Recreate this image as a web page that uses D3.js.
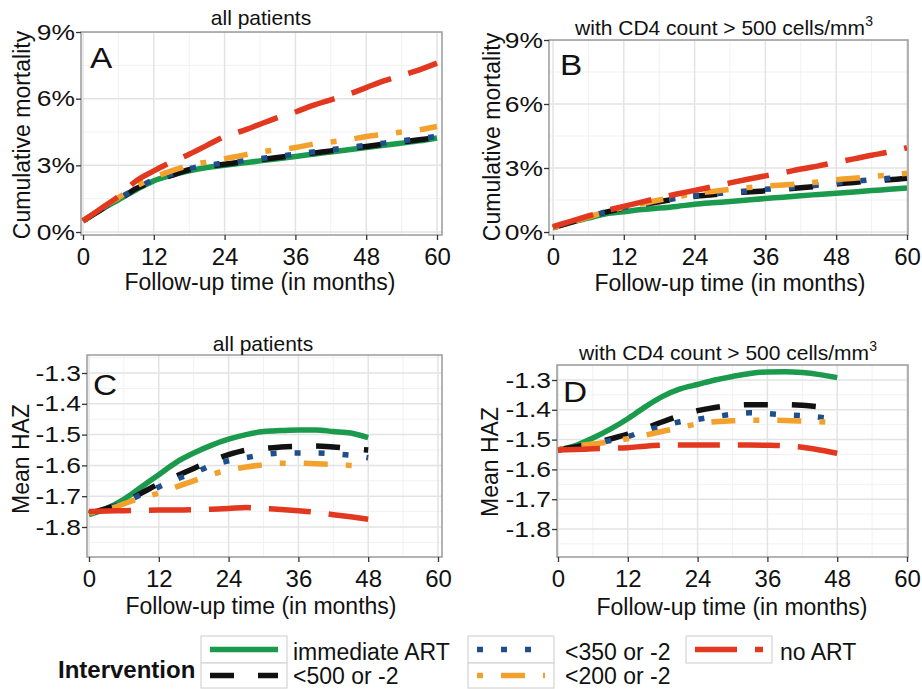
<!DOCTYPE html>
<html>
<head>
<meta charset="utf-8">
<script src="https://cdn.jsdelivr.net/npm/d3@7"></script>
<style>
  body { margin: 0; background: #fff; }
  text { font-family: "Liberation Sans", Arial, sans-serif; fill: #111; }
</style>
</head>
<body>
<svg id="fig" width="922" height="689"></svg>
<script>
// follow-up months
const months60 = [0, 3, 6, 9, 12, 15, 18, 21, 24, 27, 30, 33, 36, 39, 42, 45, 48, 51, 54, 57, 60];
const months48 = [0, 3, 6, 9, 12, 15, 18, 21, 24, 27, 30, 33, 36, 39, 42, 45, 48];
const seriesNames = ["immediate ART", "<500 or -2", "<350 or -2", "<200 or -2", "no ART"];

// A: cumulative mortality (%), all patients
const aImmediate = [0.5, 1.0, 1.45, 1.9, 2.3, 2.55, 2.75, 2.9, 3.0, 3.1, 3.2, 3.3, 3.4, 3.5, 3.6, 3.7, 3.8, 3.9, 4.0, 4.1, 4.23];
const aLt500 = [0.5, 1.0, 1.45, 1.95, 2.3, 2.55, 2.8, 2.95, 3.05, 3.15, 3.25, 3.35, 3.45, 3.55, 3.65, 3.75, 3.85, 3.95, 4.05, 4.15, 4.25];
const aLt350 = [0.5, 1.0, 1.5, 1.95, 2.35, 2.6, 2.85, 3.0, 3.1, 3.2, 3.3, 3.4, 3.5, 3.6, 3.7, 3.8, 3.9, 4.0, 4.1, 4.2, 4.3];
const aLt200 = [0.5, 1.05, 1.55, 2.05, 2.45, 2.75, 3.0, 3.15, 3.3, 3.45, 3.6, 3.7, 3.8, 3.95, 4.05, 4.15, 4.3, 4.4, 4.5, 4.6, 4.75];
const aNoArt = [0.5, 1.05, 1.6, 2.3, 2.75, 3.15, 3.5, 3.9, 4.3, 4.55, 4.85, 5.15, 5.4, 5.7, 5.95, 6.2, 6.5, 6.8, 7.05, 7.3, 7.6];

// B: cumulative mortality (%), CD4 > 500
const bImmediate = [0.2, 0.45, 0.65, 0.85, 0.95, 1.05, 1.12, 1.2, 1.3, 1.37, 1.43, 1.5, 1.57, 1.63, 1.7, 1.76, 1.82, 1.88, 1.94, 2.0, 2.06];
const bLt500 = [0.2, 0.45, 0.7, 0.93, 1.12, 1.28, 1.42, 1.55, 1.67, 1.75, 1.82, 1.88, 1.93, 2.0, 2.07, 2.15, 2.25, 2.32, 2.4, 2.45, 2.52];
const bLt350 = [0.2, 0.45, 0.7, 0.95, 1.15, 1.3, 1.45, 1.58, 1.7, 1.78, 1.85, 1.93, 2.0, 2.05, 2.12, 2.2, 2.3, 2.37, 2.45, 2.52, 2.58];
const bLt200 = [0.2, 0.45, 0.7, 0.95, 1.15, 1.33, 1.5, 1.65, 1.8, 1.9, 2.0, 2.08, 2.15, 2.2, 2.27, 2.35, 2.45, 2.52, 2.6, 2.67, 2.75];
const bNoArt = [0.25, 0.5, 0.75, 1.0, 1.2, 1.4, 1.6, 1.78, 1.95, 2.12, 2.3, 2.47, 2.63, 2.78, 2.95, 3.1, 3.27, 3.43, 3.6, 3.75, 3.95];

// C: mean HAZ, all patients
const cImmediate = [-1.76, -1.74, -1.71, -1.67, -1.63, -1.59, -1.56, -1.535, -1.515, -1.5, -1.49, -1.487, -1.485, -1.485, -1.49, -1.495, -1.51];
const cLt500 = [-1.755, -1.74, -1.72, -1.69, -1.66, -1.635, -1.61, -1.585, -1.565, -1.55, -1.545, -1.54, -1.538, -1.537, -1.54, -1.545, -1.55];
const cLt350 = [-1.755, -1.74, -1.72, -1.695, -1.67, -1.645, -1.625, -1.6, -1.585, -1.575, -1.565, -1.56, -1.56, -1.56, -1.562, -1.567, -1.575];
const cLt200 = [-1.755, -1.745, -1.725, -1.705, -1.69, -1.67, -1.65, -1.63, -1.615, -1.605, -1.598, -1.593, -1.593, -1.595, -1.597, -1.6, -1.603];
const cNoArt = [-1.75, -1.748, -1.747, -1.746, -1.745, -1.745, -1.744, -1.742, -1.74, -1.737, -1.74, -1.743, -1.747, -1.752, -1.76, -1.767, -1.775];

// D: mean HAZ, CD4 > 500
const dImmediate = [-1.535, -1.52, -1.495, -1.465, -1.43, -1.39, -1.355, -1.33, -1.315, -1.3, -1.288, -1.278, -1.273, -1.272, -1.275, -1.282, -1.292];
const dLt500 = [-1.535, -1.525, -1.512, -1.498, -1.482, -1.462, -1.44, -1.42, -1.403, -1.392, -1.385, -1.383, -1.383, -1.383, -1.385, -1.39, -1.397];
const dLt350 = [-1.535, -1.525, -1.515, -1.503, -1.49, -1.47, -1.455, -1.44, -1.432, -1.423, -1.415, -1.41, -1.413, -1.417, -1.42, -1.425, -1.432];
const dLt200 = [-1.535, -1.522, -1.515, -1.507, -1.497, -1.485, -1.472, -1.46, -1.447, -1.44, -1.437, -1.435, -1.435, -1.436, -1.438, -1.44, -1.443];
const dNoArt = [-1.535, -1.533, -1.531, -1.529, -1.527, -1.522, -1.519, -1.518, -1.518, -1.518, -1.518, -1.518, -1.519, -1.521, -1.526, -1.535, -1.546];

const xTicks = [0, 12, 24, 36, 48, 60];
const xMinor = [6, 18, 30, 42, 54];
const mortTicks = [0, 3, 6, 9];
const mortMinor = [1.5, 4.5, 7.5];
const hazTicks = [-1.8, -1.7, -1.6, -1.5, -1.4, -1.3];
const hazMinor = [-1.85, -1.75, -1.65, -1.55, -1.45, -1.35, -1.25];

// line styles, ggplot linetypes scaled by line width
const colors = ["#1b9a4e", "#111111", "#1f4e8c", "#f2a22c", "#e2381f"];
const dashes = [null, "24,24", "6,18", "6,18,24,18", "42,18"];
const lineW = 5.5;

const svg = d3.select("#fig");

const panels = [
  { id: "A", box: { l: 81, t: 32, r: 442, b: 235 }, x0: 83, x60: 437, yDom: [0, 9], yPx: [232, 32],
    ticks: mortTicks, minor: mortMinor, fmt: d => d + "%", months: months60,
    data: [aImmediate, aLt500, aLt350, aLt200, aNoArt],
    title: "all patients", titleX: 261, titleY: 25, yTitle: "Cumulative mortality", yTitleX: 30, yTitleY: 135,
    xTitleX: 260, xTitleY: 290, labX: 90, labY: 68 },
  { id: "B", box: { l: 549, t: 40, r: 908, b: 235 }, x0: 553, x60: 907, yDom: [0, 9], yPx: [232, 40],
    ticks: mortTicks, minor: mortMinor, fmt: d => d + "%", months: months60,
    data: [bImmediate, bLt500, bLt350, bLt200, bNoArt],
    title: "with CD4 count > 500 cells/mm", sup: "3", titleX: 724, titleY: 35, yTitle: "Cumulative mortality", yTitleX: 500, yTitleY: 137,
    xTitleX: 730, xTitleY: 291, labX: 560, labY: 75 },
  { id: "C", box: { l: 87, t: 355, r: 442, b: 557 }, x0: 89, x60: 438, yDom: [-1.8, -1.3], yPx: [527, 373],
    ticks: hazTicks, minor: hazMinor, fmt: d => d.toFixed(1), months: months48,
    data: [cImmediate, cLt500, cLt350, cLt200, cNoArt],
    title: "all patients", titleX: 263, titleY: 351, yTitle: "Mean HAZ", yTitleX: 29, yTitleY: 459,
    xTitleX: 261, xTitleY: 614, labX: 93, labY: 395 },
  { id: "D", box: { l: 557, t: 365, r: 908, b: 557 }, x0: 558, x60: 907, yDom: [-1.8, -1.3], yPx: [529, 380],
    ticks: hazTicks, minor: hazMinor, fmt: d => d.toFixed(1), months: months48,
    data: [dImmediate, dLt500, dLt350, dLt200, dNoArt],
    title: "with CD4 count > 500 cells/mm", sup: "3", titleX: 728, titleY: 360, yTitle: "Mean HAZ", yTitleX: 498, yTitleY: 462,
    xTitleX: 732, xTitleY: 615, labX: 563, labY: 402 }
];

panels.forEach(drawPanel);
drawLegend();

function drawPanel(p) {
  const b = p.box;
  const g = svg.append("g");
  const x = d3.scaleLinear().domain([0, 60]).range([p.x0, p.x60]);
  const y = d3.scaleLinear().domain(p.yDom).range(p.yPx);

  g.append("clipPath").attr("id", "clip" + p.id)
    .append("rect").attr("x", b.l).attr("y", b.t).attr("width", b.r - b.l).attr("height", b.b - b.t);

  const grid = g.append("g").attr("clip-path", `url(#clip${p.id})`);
  grid.selectAll(".vmin").data(xMinor).enter().append("line")
    .attr("x1", d => x(d)).attr("x2", d => x(d)).attr("y1", b.t).attr("y2", b.b)
    .attr("stroke", "#f1f1f1").attr("stroke-width", 1);
  grid.selectAll(".hmin").data(p.minor).enter().append("line")
    .attr("x1", b.l).attr("x2", b.r).attr("y1", d => y(d)).attr("y2", d => y(d))
    .attr("stroke", "#f1f1f1").attr("stroke-width", 1);
  grid.selectAll(".vmaj").data(xTicks).enter().append("line")
    .attr("x1", d => x(d)).attr("x2", d => x(d)).attr("y1", b.t).attr("y2", b.b)
    .attr("stroke", "#e3e3e3").attr("stroke-width", 1.5);
  grid.selectAll(".hmaj").data(p.ticks).enter().append("line")
    .attr("x1", b.l).attr("x2", b.r).attr("y1", d => y(d)).attr("y2", d => y(d))
    .attr("stroke", "#e3e3e3").attr("stroke-width", 1.5);

  const line = d3.line()
    .x((d, i) => x(p.months[i]))
    .y(d => y(d))
    .curve(d3.curveMonotoneX);

  const lines = g.append("g").attr("clip-path", `url(#clip${p.id})`);
  p.data.forEach((vals, k) => {
    lines.append("path")
      .datum(vals)
      .attr("fill", "none")
      .attr("stroke", colors[k])
      .attr("stroke-width", lineW)
      .attr("stroke-dasharray", dashes[k])
      .attr("d", line);
  });

  g.append("rect")
    .attr("x", b.l).attr("y", b.t).attr("width", b.r - b.l).attr("height", b.b - b.t)
    .attr("fill", "none").attr("stroke", "#9a9a9a").attr("stroke-width", 1.5);

  // axes
  const xAxis = g.append("g")
    .attr("transform", `translate(0,${b.b})`)
    .call(d3.axisBottom(x).tickValues(xTicks).tickSize(5).tickPadding(8).tickFormat(d => d));
  xAxis.select(".domain").remove();
  xAxis.selectAll("line").attr("stroke", "#333").attr("stroke-width", 1.3);
  xAxis.selectAll("text").style("font-size", "24px").attr("fill", "#111");

  const yAxis = g.append("g")
    .attr("transform", `translate(${b.l},0)`)
    .call(d3.axisLeft(y).tickValues(p.ticks).tickSize(5).tickPadding(2).tickFormat(p.fmt));
  yAxis.select(".domain").remove();
  yAxis.selectAll("line").attr("stroke", "#333").attr("stroke-width", 1.3);
  yAxis.selectAll("text")
    .style("font-size", "22px").attr("fill", "#111")
    .attr("x", 0)
    .attr("transform", "translate(-6,0) scale(1.2,1)");

  // titles
  const t = g.append("text")
    .attr("x", p.titleX).attr("y", p.titleY)
    .attr("text-anchor", "middle")
    .style("font-size", "21px")
    .text(p.title);
  if (p.sup) {
    t.append("tspan").attr("dy", -9).style("font-size", "14px").text(p.sup);
  }

  g.append("text")
    .attr("transform", `translate(${p.yTitleX},${p.yTitleY}) rotate(-90)`)
    .attr("text-anchor", "middle")
    .style("font-size", "23px")
    .text(p.yTitle);

  g.append("text")
    .attr("x", p.xTitleX).attr("y", p.xTitleY)
    .attr("text-anchor", "middle")
    .style("font-size", "23px")
    .text("Follow-up time (in months)");

  g.append("text")
    .attr("transform", `translate(${p.labX},${p.labY}) scale(1.15,1)`)
    .style("font-size", "29px")
    .text(p.id);
}

function drawLegend() {
  const g = svg.append("g");
  const boxL = [201, 468, 686];
  const boxW = 86;
  const rowT = [636, 663];
  const rowH = [27, 25];
  const textX = [293, 565, 780];
  const textY = [660, 684];
  const slots = [[0, 0], [0, 1], [1, 0], [1, 1], [2, 0]];

  g.append("text")
    .attr("x", 58).attr("y", 678)
    .style("font-size", "24px").style("font-weight", "bold")
    .text("Intervention");

  seriesNames.forEach((name, k) => {
    const [c, r] = slots[k];
    g.append("rect")
      .attr("x", boxL[c]).attr("y", rowT[r]).attr("width", boxW).attr("height", rowH[r])
      .attr("fill", "#fff").attr("stroke", "#d4d4d4").attr("stroke-width", 1.2);
    const ly = rowT[r] + rowH[r] / 2;
    g.append("line")
      .attr("x1", boxL[c] + 9).attr("x2", boxL[c] + boxW - 9)
      .attr("y1", ly).attr("y2", ly)
      .attr("stroke", colors[k]).attr("stroke-width", lineW)
      .attr("stroke-dasharray", dashes[k]);
    g.append("text")
      .attr("x", textX[c]).attr("y", textY[r])
      .style("font-size", "23px")
      .text(name);
  });
}
</script>
</body>
</html>
